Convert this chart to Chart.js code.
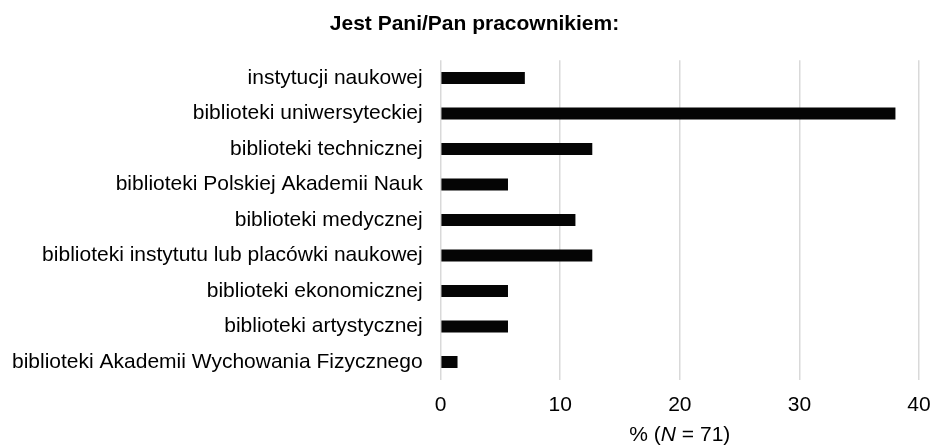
<!DOCTYPE html>
<html>
<head>
<meta charset="utf-8">
<script src="https://cdn.jsdelivr.net/npm/chart.js@4/dist/chart.umd.min.js"></script>
<style>
  html, body { margin: 0; padding: 0; background: #fff; }
  #wrap { width: 931px; height: 446px; }
</style>
</head>
<body>
<div id="wrap"><canvas id="chart"></canvas></div>
<script>
// Data (percent of N = 71)
const categories = [
    "instytucji naukowej",
    "biblioteki uniwersyteckiej",
    "biblioteki technicznej",
    "biblioteki Polskiej Akademii Nauk",
    "biblioteki medycznej",
    "biblioteki instytutu lub placówki naukowej",
    "biblioteki ekonomicznej",
    "biblioteki artystycznej",
    "biblioteki Akademii Wychowania Fizycznego"
];
const percents = [7.04, 38.03, 12.68, 5.63, 11.27, 12.68, 5.63, 5.63, 1.41];
const xTickValues = [0, 10, 20, 30, 40];
const chartTitle = "Jest Pani/Pan pracownikiem:";
const axisTitleParts = ["% (", "N", " = 71)"];

const FONT = "'Liberation Sans', Arial, Helvetica, sans-serif";
const SIZE = 21;

// Draws the x axis title with an italic N
const axisTitlePlugin = {
    id: "axisTitle",
    afterDraw(chart) {
        const ctx = chart.ctx;
        const area = chart.chartArea;
        const cx = (area.left + area.right) / 2;
        const y = area.bottom + 55;
        const normal = SIZE + "px " + FONT;
        const italic = "italic " + SIZE + "px " + FONT;
        ctx.save();
        ctx.fillStyle = "#000";
        ctx.textBaseline = "middle";
        ctx.font = normal;
        const w0 = ctx.measureText(axisTitleParts[0]).width;
        const w2 = ctx.measureText(axisTitleParts[2]).width;
        ctx.font = italic;
        const w1 = ctx.measureText(axisTitleParts[1]).width;
        let px = cx - (w0 + w1 + w2) / 2;
        ctx.font = normal;
        ctx.fillText(axisTitleParts[0], px, y);
        px += w0;
        ctx.font = italic;
        ctx.fillText(axisTitleParts[1], px, y);
        px += w1;
        ctx.font = normal;
        ctx.fillText(axisTitleParts[2], px, y);
        ctx.restore();
    }
};

const ctx = document.getElementById("chart").getContext("2d");
new Chart(ctx, {
    type: "bar",
    data: {
        labels: categories,
        datasets: [{
            data: percents,
            backgroundColor: "#050505",
            borderWidth: 0,
            barPercentage: 0.68,
            categoryPercentage: 0.5
        }]
    },
    options: {
        indexAxis: "y",
        responsive: true,
        maintainAspectRatio: false,
        animation: false,
        layout: {
            padding: { left: -6, right: -24, top: 2, bottom: 15 }
        },
        plugins: {
            legend: { display: false },
            tooltip: { enabled: false },
            title: {
                display: true,
                text: chartTitle,
                color: "#000",
                font: { family: FONT, size: SIZE, weight: "bold" },
                padding: { top: 10, bottom: 23 }
            }
        },
        scales: {
            x: {
                min: 0,
                max: 40,
                afterBuildTicks(scale) {
                    scale.ticks = xTickValues.map(v => ({ value: v }));
                },
                afterFit(scale) {
                    scale.paddingRight = 12;
                },
                grid: { color: "#d9d9d9", lineWidth: 1.5, drawTicks: false },
                border: { display: false },
                ticks: {
                    color: "#000",
                    font: { family: FONT, size: SIZE },
                    padding: 13
                }
            },
            y: {
                grid: { display: false, drawTicks: false },
                border: { display: false },
                ticks: {
                    color: "#000",
                    font: { family: FONT, size: SIZE },
                    padding: 18
                }
            }
        }
    },
    plugins: [axisTitlePlugin]
});
</script>
</body>
</html>
